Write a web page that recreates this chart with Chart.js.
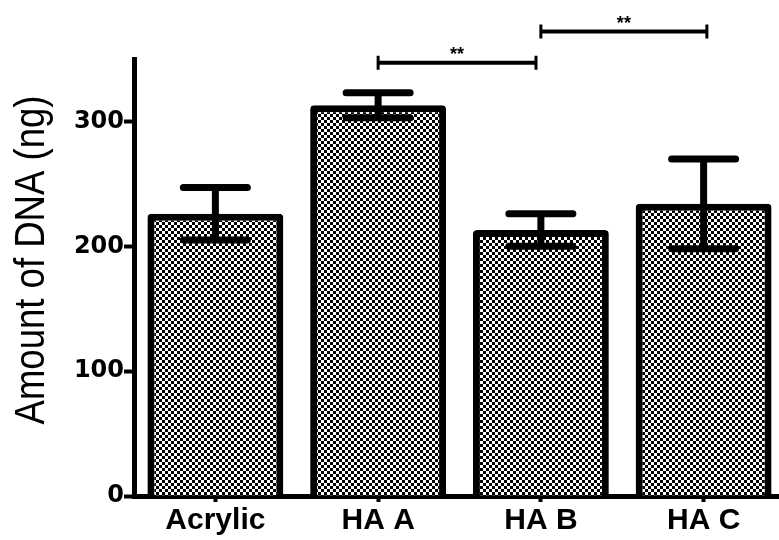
<!DOCTYPE html>
<html>
<head>
<meta charset="utf-8">
<script src="https://cdn.jsdelivr.net/npm/chart.js@4.4.1/dist/chart.umd.min.js"></script>
<style>
html, body { margin: 0; padding: 0; background: #fff; overflow: hidden; }
#wrap { width: 790px; height: 540px; }
</style>
</head>
<body>
<div id="wrap"><canvas id="myChart"></canvas></div>
<script>
// ////////// values
const groups = ["Acrylic", "HA A", "HA B", "HA C"];
const dnaMean = [226, 313, 213, 234];
const dnaErr = [21, 10, 13, 36];
const yTicks = [0, 100, 200, 300];
// significance brackets (category index from/to, height in ng)
const sigFrom = [1, 2];
const sigTo = [1.97, 3.02];
const sigLevel = [347, 372];
const sigText = ["**", "**"];

// ////////// checkered fill for the bars
const makeChecker = function(ctx){
    let c = document.createElement('canvas');
    c.width = 6; c.height = 6;
    let g = c.getContext('2d');
    g.fillStyle = '#fff';
    g.fillRect(0, 0, 6, 6);
    g.fillStyle = '#000';
    g.fillRect(0, 0, 3, 3);
    g.fillRect(3, 3, 3, 3);
    return ctx.createPattern(c, 'repeat');
}

// ////////// error bars, brackets and the y title
const extras = {
    id: 'extras',
    afterDatasetsDraw(chart){
        const ctx = chart.ctx;
        const x = chart.scales.x, y = chart.scales.y;
        const meta = chart.getDatasetMeta(0);
        ctx.save();
        ctx.strokeStyle = '#000';
        ctx.fillStyle = '#000';
        ctx.lineCap = 'round';
        ctx.lineWidth = 7;
        meta.data.forEach((bar, i) => {
            let top = y.getPixelForValue(dnaMean[i] + dnaErr[i]);
            let bot = y.getPixelForValue(dnaMean[i] - dnaErr[i]);
            ctx.beginPath();
            ctx.moveTo(bar.x, top); ctx.lineTo(bar.x, bot);
            ctx.moveTo(bar.x - 32, top); ctx.lineTo(bar.x + 32, top);
            ctx.moveTo(bar.x - 32, bot); ctx.lineTo(bar.x + 32, bot);
            ctx.stroke();
        });

        ctx.lineCap = 'butt';
        for(let i = 0; i < sigFrom.length; i++){
            let x1 = x.getPixelForValue(sigFrom[i]);
            let x2 = x.getPixelForValue(sigTo[i]);
            let yy = y.getPixelForValue(sigLevel[i]);
            ctx.lineWidth = 4;
            ctx.beginPath();
            ctx.moveTo(x1, yy); ctx.lineTo(x2, yy);
            ctx.stroke();
            ctx.lineWidth = 3;
            ctx.beginPath();
            ctx.moveTo(x1, yy - 7); ctx.lineTo(x1, yy + 7);
            ctx.moveTo(x2, yy - 7); ctx.lineTo(x2, yy + 7);
            ctx.stroke();
            ctx.font = 'bold 18px "Liberation Sans"';
            ctx.textAlign = 'center';
            ctx.textBaseline = 'alphabetic';
            ctx.fillText(sigText[i], (x1 + x2) / 2, yy - 3);
        }

        // y title, squeezed like the original narrow face
        ctx.translate(32, 260);
        ctx.rotate(-Math.PI / 2);
        ctx.scale(0.87, 1);
        ctx.font = '42px "Liberation Sans"';
        ctx.textAlign = 'center';
        ctx.textBaseline = 'middle';
        ctx.fillText('Amount of DNA (ng)', 0, 0);
        ctx.restore();
    }
};

const ctx = document.getElementById('myChart').getContext('2d');
const myChart = new Chart(ctx, {
    type: 'bar',
    data: {
        labels: groups,
        datasets: [{
            data: dnaMean,
            backgroundColor: makeChecker(ctx),
            borderColor: '#000',
            borderWidth: 7,
            borderRadius: 4,
            borderSkipped: 'start',
            barPercentage: 0.835,
            categoryPercentage: 1
        }]
    },
    options: {
        responsive: true,
        maintainAspectRatio: false,
        animation: false,
        layout: { padding: { top: 59, right: 5, bottom: 0, left: 0 } },
        plugins: { legend: { display: false }, tooltip: { enabled: false } },
        scales: {
            x: {
                grid: { drawOnChartArea: false, offset: false, tickLength: 6, tickWidth: 4, tickColor: '#000' },
                border: { color: '#000', width: 5 },
                ticks: { color: '#000', padding: 1, font: { family: 'Liberation Sans', size: 30, weight: 'bold' } }
            },
            y: {
                min: 0,
                max: 350,
                afterBuildTicks: s => { s.ticks = yTicks.map(v => ({ value: v })); },
                afterFit: s => { s.width = 134; },
                grid: { drawOnChartArea: false, tickLength: 10, tickWidth: 4, tickColor: '#000' },
                border: { color: '#000', width: 5 },
                ticks: { color: '#000', padding: 0, font: { family: 'DejaVu Sans', size: 24, weight: 'bold' } }
            }
        }
    },
    plugins: [extras]
});
</script>
</body>
</html>
